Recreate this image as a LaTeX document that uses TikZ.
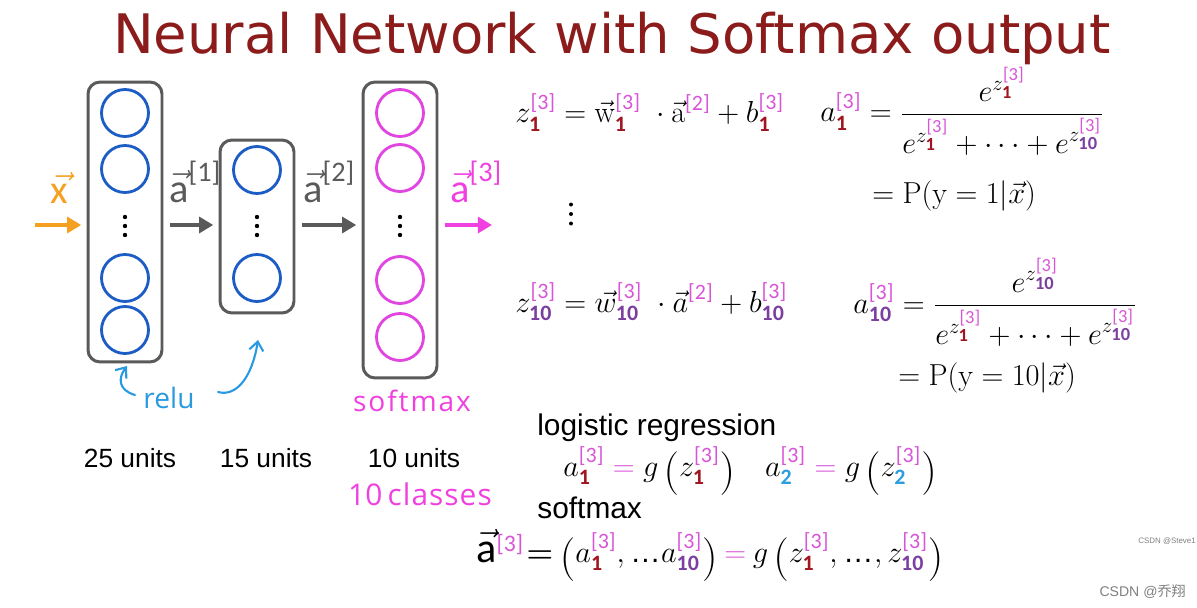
\documentclass[tikz,border=0pt]{standalone}
\usepackage{amsmath}
\usepackage[no-math]{fontspec}
\usetikzlibrary{arrows.meta,calc}
\setmainfont{Liberation Sans}
\newfontfamily\calib{Carlito}
\newfontfamily\hand{Open Sans}
\newfontfamily\titlefont{DejaVu Sans}
\newfontfamily\cjk{Noto Sans CJK SC}
\definecolor{titlered}{HTML}{8C1C1C}
\definecolor{boxgray}{HTML}{5A5A5A}
\definecolor{nblue}{HTML}{1C5CC5}
\definecolor{nmag}{HTML}{E045E0}
\definecolor{inorange}{HTML}{F5A020}
\definecolor{outmag}{HTML}{F040E0}
\definecolor{relublue}{HTML}{2A9AE0}
\definecolor{pk}{HTML}{D855D8}
\definecolor{subr}{HTML}{A0151F}
\definecolor{subp}{HTML}{7B3FA0}
\definecolor{subb}{HTML}{2A9EE0}
\definecolor{wm}{HTML}{808080}
\newcommand\tsup[1]{\textcolor{pk}{\hbox{\calib\fontsize{12.5}{13}\selectfont[#1]}}}
\newcommand\subone{\textcolor{subr}{\hbox{\calib\bfseries\fontsize{12.5}{13}\selectfont 1}}}
\newcommand\subten{\textcolor{subp}{\hbox{\calib\bfseries\fontsize{12.5}{13}\selectfont 10}}}
\newcommand\subtwo{\textcolor{subb}{\hbox{\calib\bfseries\fontsize{12.5}{13}\selectfont 2}}}
\newcommand\tsupS{\textcolor{pk}{\hbox{\calib\fontsize{10.5}{11}\selectfont[3]}}}
\newcommand\suboneS{\textcolor{subr}{\hbox{\calib\bfseries\fontsize{10.5}{11}\selectfont 1}}}
\newcommand\subtenS{\textcolor{subp}{\hbox{\calib\bfseries\fontsize{10.5}{11}\selectfont 10}}}
\newcommand\pkeq{\mathrel{\textcolor{pk}{=}}}
\newcommand\tdots{\hbox{\kern1pt.\kern0.8pt.\kern0.8pt.\kern1pt}}
\newcommand\lpar{\mathopen{\raisebox{-4.6pt}{\fontsize{24}{24}\selectfont$($}}}
\newcommand\rpar{\mathclose{\raisebox{-4.6pt}{\fontsize{24}{24}\selectfont$)$}}}
\newcommand\hk{\kern1.1pt}
\begin{document}
\begin{tikzpicture}[x=0.02cm,y=-0.02cm,
  layerbox/.style={draw=boxgray,line width=1.7pt,rounded corners=0.24cm,minimum width=1.48cm,inner sep=0pt},
  bunit/.style={circle,draw=nblue,line width=1.6pt,minimum size=0.94cm,inner sep=0pt},
  munit/.style={circle,draw=nmag,line width=1.6pt,minimum size=0.94cm,inner sep=0pt},
  flow/.style={line width=2.4pt,-{Triangle[length=8pt,width=9pt]}},
  handarrow/.style={draw=relublue,line width=1.2pt,line cap=round,-{Straight Barb[length=5pt,width=8pt]}},
  mathtxt/.style={font=\fontsize{17}{20}\selectfont,inner sep=0pt},
  lbl/.style={font=\fontsize{15}{18}\selectfont,inner sep=0pt},
  bigtxt/.style={font=\fontsize{17}{20}\selectfont,inner sep=0pt},
  handtxt/.style={font=\hand\fontsize{16}{18}\selectfont,inner sep=0pt},
  arrlbl/.style={font=\calib\fontsize{23}{26}\selectfont,inner sep=0pt,anchor=base west}]
\useasboundingbox (0,0) rectangle (1197,608);
\fill[white] (0,0) rectangle (1197,608);
% title
\node[anchor=base,text=titlered,font=\titlefont\fontsize{31}{36}\selectfont,inner sep=0pt] (title) at (612,54) {Neural Network with Softmax output};
% layers
\node[layerbox,minimum height=5.6cm] (L1) at (125,222) {};
\node[layerbox,minimum height=3.46cm] (L2) at (257,226.5) {};
\node[layerbox,minimum height=5.92cm] (L3) at (400,230) {};
\node[bunit] (u11) at (125,113) {};
\node[bunit] (u12) at (125,169) {};
\node[bunit] (u13) at (125,278) {};
\node[bunit] (u14) at (125,330) {};
\node[bunit] (u21) at (257,170) {};
\node[bunit] (u22) at (257,278) {};
\node[munit] (u31) at (400,113) {};
\node[munit] (u32) at (400,168) {};
\node[munit] (u33) at (400,280) {};
\node[munit] (u34) at (400,337) {};
\foreach \x in {125,257,400}{
  \foreach \y in {217,226,235}{\fill (\x,\y) circle (2.2);}
}
% flow arrows
\coordinate (xin) at (35,225);
\coordinate (aout) at (492,225);
\draw[flow,inorange,shorten >=3pt] (xin) -- (L1.west |- xin);
\draw[flow,boxgray,shorten <=3.5pt,shorten >=3pt] (L1.east |- xin) -- (L2.west |- xin);
\draw[flow,boxgray,shorten <=3.5pt,shorten >=3pt] (L2.east |- xin) -- (L3.west |- xin);
\draw[flow,outmag,shorten <=3.5pt] (L3.east |- xin) -- (aout);
\node[font=\calib\fontsize{23}{26}\selectfont,text=inorange,inner sep=0pt] (xlbl) at (59,188) {$\vec{\text{x}\kern3pt}\kern-3pt$};
\node[arrlbl,text=boxgray] (a1lbl) at (169,202) {$\vec{\text{a}}^{\text{[1]}}$};
\node[arrlbl,text=boxgray] (a2lbl) at (303,202) {$\vec{\text{a}}^{\text{[2]}}$};
\node[arrlbl,text=outmag] (a3lbl) at (450,202) {$\vec{\text{a}}^{\text{[3]}}$};
% relu
\node[handtxt,text=relublue,anchor=base] (relu) at (169,408) {relu};
\coordinate (r1s) at (135,395);
\coordinate (r1e) at (127,366);
\coordinate (r2s) at (218,392);
\coordinate (r2e) at (258,340);
\draw[handarrow] (r1s) .. controls (118,390) and (118,378) .. (r1e);
\draw[handarrow] (r2s) .. controls (236,397) and (252,378) .. (r2e);
\node[handtxt,text=outmag,anchor=base] (smx) at (412,411) {s\hk o\hk f\hk t\hk m\hk a\hk x};
% units
\node[lbl,anchor=base] (n25) at (130,467) {25 units};
\node[lbl,anchor=base] (n15) at (266,467) {15 units};
\node[lbl,anchor=base] (n10) at (414,467) {10 units};
\node[handtxt,text=outmag,anchor=base,font=\hand\fontsize{17}{18}\selectfont] (cls) at (420,505) {10\kern3pt c\kern0.6pt l\kern0.6pt a\kern0.6pt s\kern0.6pt s\kern0.6pt e\kern0.6pt s};
% equations
\node[mathtxt,anchor=base west] (eq1) at (515,123) {$\displaystyle z_{\subone}^{\tsup3} = \vec{\mathrm{w}}_{\subone}^{\tsup3}\;\cdot\vec{\mathrm{a}}^{\tsup2} + b_{\subone}^{\tsup3}$};
\node[mathtxt,anchor=base west] (fr1) at (820,122) {$\displaystyle a_{\subone}^{\tsup3} = \frac{e^{z_{\suboneS}^{\tsupS}}}{e^{z_{\suboneS}^{\tsupS}}+\cdots+e^{z_{\subtenS}^{\tsupS}}}$};
\node[mathtxt,anchor=base west] (p1) at (872,203) {$=\mathrm{P}(\mathrm{y}=1|\vec{x})$};
\node[inner sep=0pt,minimum size=4pt] (vd) at (571,214) {};
\foreach \dy in {-9.5,0,9.5}{\fill ($(vd)+(0,\dy)$) circle (2);}
\node[mathtxt,anchor=base west] (eq2) at (515,312) {$\displaystyle z_{\subten}^{\tsup3} = \vec{w}_{\subten}^{\tsup3}\;\cdot\vec{a}^{\tsup2} + b_{\subten}^{\tsup3}$};
\node[mathtxt,anchor=base west] (fr2) at (853,313) {$\displaystyle a_{\subten}^{\tsup3} = \frac{e^{z_{\subtenS}^{\tsupS}}}{e^{z_{\suboneS}^{\tsupS}}+\cdots+e^{z_{\subtenS}^{\tsupS}}}$};
\node[mathtxt,anchor=base west] (p2) at (898,385) {$=\mathrm{P}(\mathrm{y}=10|\vec{x})$};
% logistic / softmax
\node[bigtxt,anchor=base west] (logi) at (537,435) {logistic regression};
\node[mathtxt,anchor=base west] (lg) at (563,476) {$a_{\subone}^{\tsup3} \pkeq g\,\lpar z_{\subone}^{\tsup3}\rpar\quad a_{\subtwo}^{\tsup3} \pkeq g\,\lpar z_{\subtwo}^{\tsup3}\rpar$};
\node[bigtxt,anchor=base west] (smt) at (537,518) {softmax};
\node[mathtxt,anchor=base west] (sm) at (476,562) {$\thickmuskip=4mu\hbox{\calib\fontsize{24}{26}\selectfont$\vec{\text{a}}$\raisebox{6pt}{\color{pk}\fontsize{13.5}{14}\selectfont[3]}}\kern2pt{\boldsymbol{=}}\;\lpar a_{\subone}^{\tsup3},\tdots a_{\subten}^{\tsup3}\rpar \pkeq g\,\lpar z_{\subone}^{\tsup3},\tdots,z_{\subten}^{\tsup3}\rpar$};
% watermarks
\node[font=\fontsize{4.5}{5}\selectfont,text=wm,inner sep=0pt,anchor=east] (wm1) at (1196,541) {CSDN @Steve1};
\node[font=\fontsize{8}{9}\selectfont,text=wm,inner sep=0pt,anchor=east] (wm2) at (1186,592) {CSDN @{\cjk 乔翔}};
\end{tikzpicture}
\end{document}
